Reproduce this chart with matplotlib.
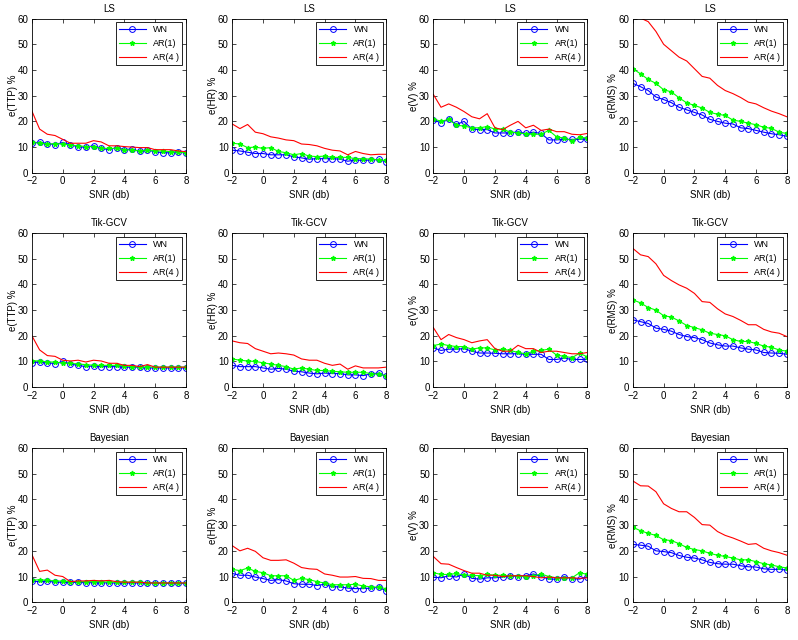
import numpy as np
import matplotlib
matplotlib.use('Agg')
import matplotlib.pyplot as plt

plt.rcParams['font.family'] = ['Liberation Sans', 'DejaVu Sans']
plt.rcParams['font.size'] = 7

snr = np.arange(-2, 8.01, 0.5)

methods = ['LS', 'Tik-GCV', 'Bayesian']
ylabels = ['e(TTP) %', 'e(HR) %', 'e(V) %', 'e(RMS) %']
series_names = ['WN', 'AR(1)', 'AR(4 )']

# LS
ls_ttp_wn = [11.5, 12, 11.3, 11, 11.8, 11, 10, 10, 10.5, 9.5, 9, 9.8, 9, 9.3, 8.3, 8.8, 8.2, 7.8, 7.8, 8.2, 7.6]
ls_ttp_ar1 = [11.8, 11.5, 11.2, 11.3, 11.2, 10.8, 10.5, 10.2, 10.2, 9.5, 9.5, 9.5, 9, 8.8, 8.5, 8.7, 8.5, 8.5, 8.2, 8, 7.8]
ls_ttp_ar4 = [24, 17, 15, 14.5, 13, 11.5, 11.5, 11.5, 12.5, 12, 10.5, 10.5, 10.2, 10, 9.8, 9.8, 9, 9, 9, 8.5, 8.2]

ls_hr_wn = [8.8, 8.5, 8, 7.5, 7.5, 7, 7, 7, 6.2, 5.8, 5.3, 5.5, 5.5, 5.5, 5.3, 4.5, 5, 4.8, 5, 5.2, 4.3]
ls_hr_ar1 = [11.5, 11.2, 9.8, 10, 9.5, 9.8, 8.3, 7.8, 7, 7.5, 6.5, 6.3, 6.5, 6, 6, 6, 5.5, 5.5, 5.3, 5, 4.8]
ls_hr_ar4 = [19, 17.2, 18.8, 15.8, 15.2, 14, 13.5, 12.8, 12.5, 11.2, 11, 10.5, 9.5, 8.8, 8.5, 7, 8.3, 7.5, 7, 7.2, 7.2]

ls_v_wn = [20.5, 19.5, 20.8, 18.8, 20, 17, 16.8, 16.8, 15.5, 15.5, 15.5, 16, 15.3, 15.8, 15.3, 12.8, 12.8, 13, 13, 13, 13.2]
ls_v_ar1 = [21, 20, 20.8, 18.5, 18.2, 17.5, 17.5, 18, 17, 17, 15.8, 15.5, 15.2, 15, 15, 16.5, 14, 13.5, 12.5, 13.8, 13.5]
ls_v_ar4 = [30.5, 25.5, 26.8, 25.5, 23.8, 21.8, 21, 23, 17.5, 16.8, 18.5, 20, 17.5, 18.5, 16.5, 17, 16, 16, 15, 14.8, 15.3]

ls_rms_wn = [34.8, 33.5, 32, 29.5, 28.5, 27.3, 25.5, 24.5, 23.5, 22.5, 20.8, 20, 19.3, 19, 17.5, 17.2, 16.5, 15.8, 15.2, 14.8, 14.2]
ls_rms_ar1 = [40.5, 38.5, 36.3, 34.8, 32.3, 31.5, 29.2, 27.2, 26.2, 25.2, 23.5, 22.8, 22.3, 20.5, 20, 19.3, 18.7, 17.7, 17.3, 15.8, 15.3]
ls_rms_ar4 = [62, 60.2, 58.8, 55, 50, 47.5, 45, 43.5, 40.5, 37.5, 36.8, 34, 32, 30.8, 29.3, 27.5, 26.8, 25.3, 24, 23, 21.8]

# Tik-GCV
tik_ttp_wn = [9.5, 9.8, 9.5, 9.2, 10, 9, 8.5, 8, 8.3, 8, 8, 8, 7.8, 7.8, 7.8, 7.5, 7.5, 7.5, 7.5, 7.5, 7.5]
tik_ttp_ar1 = [10.3, 10.2, 9.8, 9.8, 9.3, 9.3, 9, 8.8, 8.5, 8.5, 8.5, 8.5, 8.3, 8, 7.8, 7.8, 7.8, 7.8, 7.8, 7.8, 7.8]
tik_ttp_ar4 = [20, 14.5, 12.3, 12, 10.5, 10.2, 10.5, 9.8, 10.5, 10.2, 9.3, 9.3, 8.5, 8.5, 8, 8.8, 7.8, 7.8, 7.8, 7.8, 7.8]

tik_hr_wn = [8.5, 8, 8, 8, 7.5, 7, 7.3, 7, 6.2, 6, 5.5, 5.2, 5.5, 5.3, 5.3, 4.8, 4.8, 4.5, 5.2, 5.5, 4.2]
tik_hr_ar1 = [11, 10.5, 10.2, 10, 9.5, 9, 8.5, 8, 7, 7.5, 7, 6.5, 6.5, 6.2, 6, 5.8, 5.8, 5.8, 5.3, 5, 4.5]
tik_hr_ar4 = [18, 17.3, 17, 15, 14, 13, 13.3, 13, 12.5, 11, 10.5, 10.5, 9.3, 8.5, 9, 7, 8.3, 7.5, 7.5, 7.5, 7.8]

tik_v_wn = [15.3, 14.3, 14.8, 14.8, 15, 14, 13.3, 13.3, 13.2, 13, 13, 13, 12.8, 12.8, 12.8, 10.8, 10.8, 11.3, 10.8, 10.8, 10.8]
tik_v_ar1 = [16.2, 16.8, 16.2, 15.8, 15.8, 14.8, 15.3, 15.3, 14.5, 14.8, 14.3, 13.5, 13, 14, 14.3, 14.8, 12.5, 12, 11.5, 13.2, 11.8]
tik_v_ar4 = [23.2, 18.5, 20.5, 19.3, 18.5, 17.3, 18, 18.5, 15, 14, 14, 16.3, 15, 15, 13.5, 14, 14, 13.5, 13, 13, 13.5]

tik_rms_wn = [26.2, 25.5, 24.8, 23, 22.5, 21.8, 20.5, 19.7, 19.3, 18.5, 17.2, 16.5, 16, 16, 15.3, 14.8, 14.5, 13.5, 13.3, 13.2, 12.8]
tik_rms_ar1 = [34, 32.8, 31, 30, 27.8, 27.3, 25.8, 24, 23.2, 22.3, 21, 20.5, 20, 18.5, 17.8, 17.8, 17, 16, 15.5, 14.5, 14]
tik_rms_ar4 = [54, 51.5, 50.8, 48, 43.5, 41.5, 39.8, 38.5, 36.5, 33.3, 33, 30.5, 28.5, 27.5, 26, 24.3, 24.3, 22.5, 21.5, 21, 19.7]

# Bayesian
bay_ttp_wn = [8.2, 8, 8.2, 7.8, 7.8, 7.7, 7.7, 7.6, 7.6, 7.6, 7.5, 7.5, 7.5, 7.5, 7.5, 7.5, 7.5, 7.3, 7.3, 7.3, 7.3]
bay_ttp_ar1 = [8.5, 8.8, 8.5, 8.3, 8.2, 8, 8, 8, 8, 8, 7.8, 7.8, 7.8, 7.8, 7.8, 7.5, 7.5, 7.5, 7.5, 7.5, 7.5]
bay_ttp_ar4 = [18.5, 12, 12.5, 10.5, 10, 8, 8.3, 8.3, 8.5, 8.3, 8.5, 8, 7.8, 7.8, 7.8, 7.5, 7.5, 7.5, 7.5, 7.5, 7.5]

bay_hr_wn = [11.2, 10.5, 10.5, 9.8, 9.2, 8.5, 8.8, 8.3, 7.2, 7, 7, 6.5, 7, 6, 6, 5.5, 5.3, 5.3, 5.5, 5.8, 4.5]
bay_hr_ar1 = [12.8, 12.3, 13.3, 12, 11.5, 10.3, 10.3, 10.3, 8.5, 9.3, 8.8, 8, 7.5, 6.8, 6.8, 6.8, 7, 6.3, 6, 5.8, 5.3]
bay_hr_ar4 = [22, 20, 21, 19.8, 17.3, 16.3, 16.3, 16.5, 15.2, 13.5, 13, 12.8, 11, 10.5, 9.8, 9.8, 10, 9.3, 9.2, 8.5, 8.5]

bay_v_wn = [9.8, 9.5, 10.3, 9.8, 11, 9.3, 9, 9.5, 9.5, 9.8, 10.3, 10, 10.3, 11, 10, 9, 9, 10, 9.2, 9, 10]
bay_v_ar1 = [11.5, 10.8, 10.8, 11.2, 10.5, 10.5, 10.3, 10.8, 10.5, 10.5, 10.3, 10.3, 9.8, 10.3, 11, 10, 9.5, 9.5, 9.5, 11.5, 10.8]
bay_v_ar4 = [17.8, 15, 14.8, 13.5, 12.3, 11.3, 11.3, 10.5, 10.5, 10, 10.3, 10.3, 10.3, 10, 9.5, 9.8, 9.5, 9.5, 9.5, 9.3, 9.5]

bay_rms_wn = [22.5, 22.2, 21.8, 20, 19.7, 19.3, 18.2, 17.5, 17.2, 16.5, 15.5, 15, 14.8, 14.8, 14.2, 13.8, 13.7, 13, 12.8, 12.8, 12.5]
bay_rms_ar1 = [29.2, 27.8, 26.8, 26, 24.3, 24, 22.8, 21.3, 20.5, 20, 19, 18.3, 17.8, 17.2, 16.5, 16.5, 15.8, 15, 14.5, 13.8, 13.3]
bay_rms_ar4 = [47.2, 45.3, 45.2, 43, 38.3, 36.5, 35.2, 35.2, 33, 30.2, 30, 27.5, 26, 25, 23.8, 22.5, 22.8, 21, 20, 19.3, 18.3]

panels = [
    [(ls_ttp_wn, ls_ttp_ar1, ls_ttp_ar4), (ls_hr_wn, ls_hr_ar1, ls_hr_ar4),
     (ls_v_wn, ls_v_ar1, ls_v_ar4), (ls_rms_wn, ls_rms_ar1, ls_rms_ar4)],
    [(tik_ttp_wn, tik_ttp_ar1, tik_ttp_ar4), (tik_hr_wn, tik_hr_ar1, tik_hr_ar4),
     (tik_v_wn, tik_v_ar1, tik_v_ar4), (tik_rms_wn, tik_rms_ar1, tik_rms_ar4)],
    [(bay_ttp_wn, bay_ttp_ar1, bay_ttp_ar4), (bay_hr_wn, bay_hr_ar1, bay_hr_ar4),
     (bay_v_wn, bay_v_ar1, bay_v_ar4), (bay_rms_wn, bay_rms_ar1, bay_rms_ar4)],
]

fig = plt.figure(figsize=(7.98, 6.4), dpi=100)

lefts = [0.040, 0.291, 0.543, 0.793]
bottoms = [0.730, 0.395, 0.059]
w, h = 0.193, 0.241

for r in range(3):
    for c in range(4):
        ax = fig.add_axes([lefts[c], bottoms[r], w, h])
        wn, ar1, ar4 = panels[r][c]
        ax.plot(snr, wn, color='#0000ff', lw=0.8, marker='o', ms=4.2,
                mfc='none', mec='#0000ff', mew=0.7, label=series_names[0])
        ax.plot(snr, ar1, color='#00ff00', lw=0.8, marker='*', ms=3.5,
                mec='#00ff00', label=series_names[1])
        ax.plot(snr, ar4, color='#ff0000', lw=0.8, label=series_names[2])
        ax.set_xlim(-2, 8)
        ax.set_ylim(0, 60)
        ax.set_xticks([-2, 0, 2, 4, 6, 8])
        ax.set_yticks(range(0, 61, 10))
        ax.tick_params(direction='in', top=True, right=True, length=3,
                       width=0.5, labelsize=7, pad=2.5)
        for s in ax.spines.values():
            s.set_linewidth(0.6)
        ax.set_title(methods[r], fontsize=7, pad=5)
        ax.set_xlabel('SNR (db)', fontsize=7, labelpad=3)
        ax.set_ylabel(ylabels[c], fontsize=7, labelpad=0)
        leg = ax.legend(loc='upper right', fontsize=6.5, fancybox=False,
                        edgecolor='black', framealpha=1, handlelength=3.0,
                        borderpad=0.35, labelspacing=0.55, borderaxespad=0.4)
        leg.get_frame().set_linewidth(0.6)

fig.savefig('out.png', dpi=100)
